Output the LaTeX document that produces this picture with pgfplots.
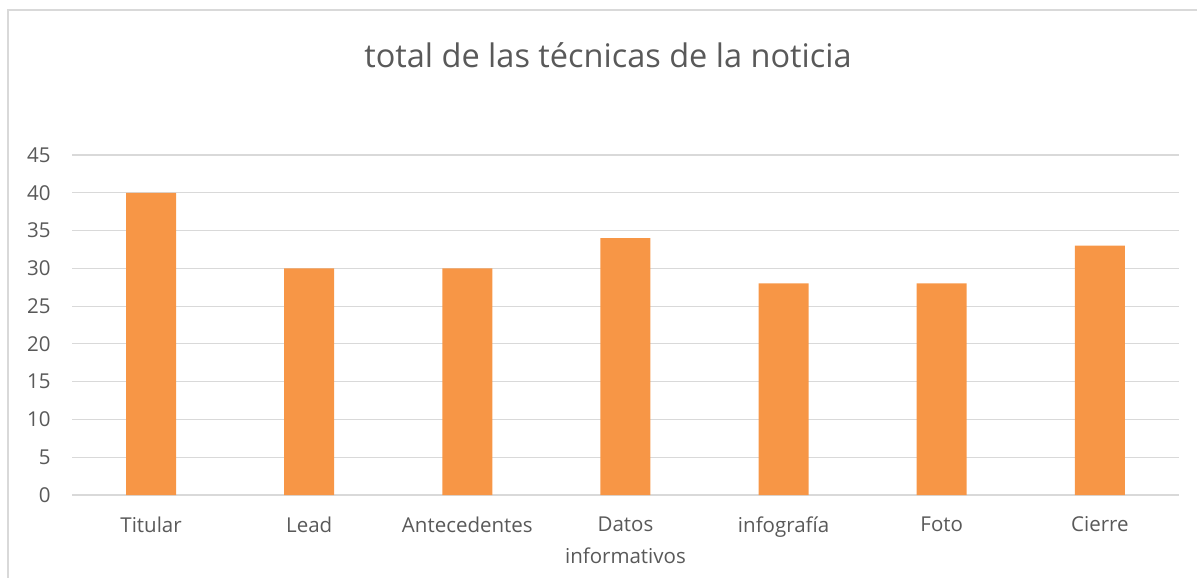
\documentclass[border=0pt]{standalone}
\usepackage{fontspec}
\setmainfont{Open Sans}
\usepackage{pgfplots}
\pgfplotsset{compat=1.18}

\definecolor{barorange}{RGB}{247,150,70}
\definecolor{txtgray}{RGB}{89,89,89}
\definecolor{gridgray}{RGB}{217,217,217}

\begin{document}
\begin{tikzpicture}
\path[use as bounding box] (0,0) rectangle (1197bp,-578bp);
\draw[gridgray, line width=1.2bp] (8bp,-600bp) -- (8bp,-10bp) -- (1220bp,-10bp);
\node[txtgray, font=\fontsize{32.5bp}{38bp}\selectfont, anchor=center] at (608bp,-55bp) {total de las técnicas de la noticia};
\begin{axis}[
  at={(72bp,-495bp)}, anchor=south west,
  scale only axis, width=1107bp, height=340bp,
  ybar, bar width=50bp,
  xmin=-0.5, xmax=6.5, ymin=0, ymax=45,
  ytick={0,5,...,45},
  xtick=data,
  xticklabels={Titular, Lead, Antecedentes, {Datos\\informativos}, infografía, Foto, Cierre},
  x tick label style={align=center, text=txtgray, font=\fontsize{20.5bp}{32bp}\selectfont, yshift=-18bp},
  y tick label style={text=txtgray, font=\fontsize{20.5bp}{24bp}\selectfont, xshift=-18bp},
  /pgf/number format/assume math mode=true,
  ymajorgrids, grid style={gridgray, line width=1.2bp},
  axis line style={draw=none},
  major tick length=0pt,
  axis x line*=bottom,
  x axis line style={draw=gridgray, line width=1.2bp},
]
\addplot[fill=barorange, draw=none] coordinates {
  (0,40)(1,30)(2,30)(3,34)(4,28)(5,28)(6,33)
};
\end{axis}
\end{tikzpicture}
\end{document}
